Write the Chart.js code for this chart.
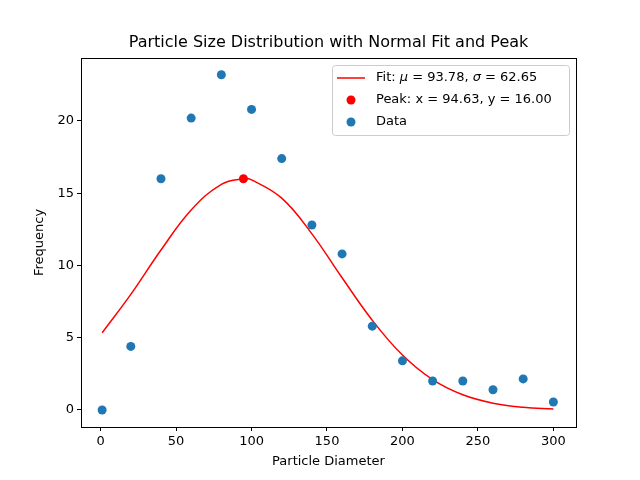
<!DOCTYPE html>
<html>
<head>
<meta charset="utf-8">
<script src="https://cdn.jsdelivr.net/npm/chart.js@4"></script>
<style>body{margin:0;background:#fff}</style>
</head>
<body>
<canvas id="c" width="640" height="480"></canvas>
<script>
// measured data points
const dataX = [1, 20, 40, 60, 80, 100, 120, 140, 160, 180, 200, 220, 240, 260, 280, 300];
const dataY = [0, 4.4, 16, 20.2, 23.2, 20.8, 17.4, 12.8, 10.8, 5.8, 3.4, 2.0, 2.0, 1.4, 2.15, 0.55];
// fitted curve read at sample positions
const fitX = [1, 20, 40, 60, 80, 94.63, 100, 120, 140, 160, 180, 200, 220, 240, 260, 280, 300];
const fitY = [5.34, 8.0, 11.07, 13.84, 15.62, 16.0, 15.92, 14.66, 12.19, 9.15, 6.21, 3.8, 2.1, 1.05, 0.47, 0.19, 0.07];
const peak = { x: 94.63, y: 16.0 };
const xTicks = [0, 50, 100, 150, 200, 250, 300];
const yTicks = [0, 5, 10, 15, 20];

const font = "DejaVu Sans";
const blue = "#1f77b4";

const overlay = {
  id: "overlay",
  afterDraw(chart) {
    const c = chart.ctx;
    const a = chart.chartArea;
    c.save();
    // frame
    c.strokeStyle = "#000"; c.lineWidth = 1;
    c.strokeRect(Math.round(a.left) + 0.5, Math.round(a.top) + 0.5, Math.round(a.right - a.left), Math.round(a.bottom - a.top));
    c.fillStyle = "#000";
    c.textAlign = "center";
    c.textBaseline = "middle";
    c.font = "16px " + font;
    c.fillText("Particle Size Distribution with Normal Fit and Peak", (a.left + a.right) / 2, 43);
    c.font = "13px " + font;
    c.fillText("Particle Diameter", (a.left + a.right) / 2, 462);
    c.save();
    c.translate(40, (a.top + a.bottom) / 2);
    c.rotate(-Math.PI / 2);
    c.fillText("Frequency", 0, 0);
    c.restore();
    // legend
    const bx = 332, by = 65, bw = 237, bh = 70;
    c.fillStyle = "rgba(255,255,255,0.8)";
    c.strokeStyle = "#ccc";
    c.lineWidth = 1;
    c.beginPath();
    c.roundRect(bx + 0.5, by + 0.5, bw, bh, 3);
    c.fill(); c.stroke();
    c.textAlign = "left";
    const rows = [by + 13, by + 35, by + 57];
    c.strokeStyle = "red"; c.lineWidth = 1.5;
    c.beginPath(); c.moveTo(bx + 5, rows[0]); c.lineTo(bx + 33, rows[0]); c.stroke();
    c.fillStyle = "red";
    c.beginPath(); c.arc(bx + 19, rows[1], 4.5, 0, Math.PI * 2); c.fill();
    c.fillStyle = blue;
    c.beginPath(); c.arc(bx + 19, rows[2], 4.5, 0, Math.PI * 2); c.fill();
    c.fillStyle = "#000";
    const seg = (parts, x, y) => {
      parts.forEach(([t, it]) => {
        c.font = (it ? "italic " : "") + "13px " + font;
        c.fillText(t, x, y);
        x += c.measureText(t).width;
      });
    };
    seg([["Fit: ", 0], ["μ", 1], [" = 93.78, ", 0], ["σ", 1], [" = 62.65", 0]], bx + 44, rows[0]);
    seg([["Peak: x = 94.63, y = 16.00", 0]], bx + 44, rows[1]);
    seg([["Data", 0]], bx + 44, rows[2]);
    c.restore();
  }
};

const axisCommon = {
  type: "linear",
  grid: { drawOnChartArea: false, color: "#000", tickLength: 4, tickWidth: 1 },
  border: { color: "#000", width: 1 },
  ticks: { color: "#000", font: { family: font, size: 13 } },
};

new Chart(document.getElementById("c"), {
  type: "scatter",
  data: {
    datasets: [
      {
        type: "line",
        data: fitX.map((x, i) => ({ x, y: fitY[i] })),
        borderColor: "red", borderWidth: 1.5, pointRadius: 0,
        tension: 0.4, fill: false, order: 2,
      },
      {
        data: [peak],
        backgroundColor: "red", pointRadius: 4.5, borderWidth: 0, order: 0,
      },
      {
        data: dataX.map((x, i) => ({ x, y: dataY[i] })),
        backgroundColor: blue, pointRadius: 4.5, borderWidth: 0, order: 1,
      },
    ],
  },
  options: {
    responsive: false,
    animation: false,
    layout: { padding: { top: 58, right: 64, left: 0, bottom: 0 } },
    plugins: { legend: { display: false }, tooltip: { enabled: false } },
    scales: {
      x: {
        ...axisCommon,
        min: -13, max: 315,
        afterBuildTicks: (s) => { s.ticks = xTicks.map((v) => ({ value: v })); },
        afterFit: (s) => { s.height = 53; },
      },
      y: {
        ...axisCommon,
        min: -1.18, max: 24.36,
        afterBuildTicks: (s) => { s.ticks = yTicks.map((v) => ({ value: v })); },
        afterFit: (s) => { s.width = 81; },
      },
    },
  },
  plugins: [overlay],
});
</script>
</body>
</html>
